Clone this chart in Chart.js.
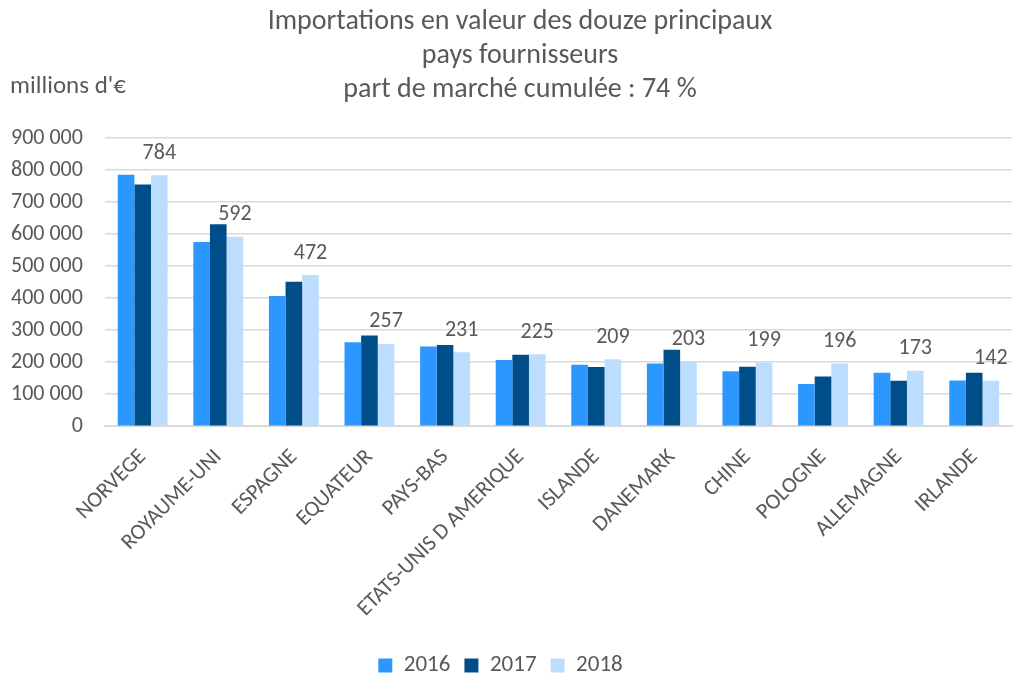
<!DOCTYPE html>
<html>
<head>
<meta charset="utf-8">
<script src="https://cdn.jsdelivr.net/npm/chart.js@4/dist/chart.umd.min.js"></script>
<style>
  html, body { margin: 0; padding: 0; background: #fff; }
  #wrap { width: 1014px; height: 675px; }
</style>
</head>
<body>
<div id="wrap"><canvas id="bar-chart"></canvas></div>
<script>
const countries = ['NORVEGE', 'ROYAUME-UNI', 'ESPAGNE', 'EQUATEUR', 'PAYS-BAS', 'ETATS-UNIS D AMERIQUE',
  'ISLANDE', 'DANEMARK', 'CHINE', 'POLOGNE', 'ALLEMAGNE', 'IRLANDE'];
const years = ['2016', '2017', '2018'];
const values2016 = [785000, 575000, 407000, 262000, 249000, 207000, 192000, 196000, 172000, 132000, 167000, 143000];
const values2017 = [755000, 631000, 451000, 283000, 254000, 223000, 185000, 239000, 186000, 155000, 142000, 167000];
const values2018 = [784000, 592000, 472000, 257000, 231000, 225000, 209000, 203000, 199000, 196000, 173000, 142000];
const titleLines = ['Importations en valeur des douze principaux', 'pays fournisseurs', 'part de marché cumulée : 74 %'];
const unitLabel = "millions d'€";

const FONT = 'Carlito, Lato, "Open Sans", sans-serif';
const GREY = '#595959';

// thousands separator with a space, like "900 000"
function fmt(v) {
  return String(v).replace(/\B(?=(\d{3})+(?!\d))/g, ' ');
}

// value labels over the 2018 bars, shown in thousands
const labels2018 = {
  id: 'labels2018',
  afterDatasetsDraw(chart) {
    const ctx = chart.ctx;
    const meta = chart.getDatasetMeta(2);
    ctx.save();
    ctx.font = '22px ' + FONT;
    ctx.fillStyle = GREY;
    ctx.textAlign = 'center';
    ctx.textBaseline = 'bottom';
    meta.data.forEach((bar, i) => {
      ctx.fillText(Math.round(values2018[i] / 1000), bar.x, bar.y - 11);
    });
    ctx.restore();
  }
};

// title block and unit note, drawn by hand to sit where the original has them
const headerText = {
  id: 'headerText',
  afterDraw(chart) {
    const ctx = chart.ctx;
    ctx.save();
    ctx.fillStyle = GREY;
    ctx.textBaseline = 'middle';
    ctx.textAlign = 'center';
    ctx.font = '28px ' + FONT;
    titleLines.forEach((line, i) => {
      ctx.fillText(line, 520, 22 + i * 34);
    });
    ctx.textAlign = 'left';
    ctx.font = '25px ' + FONT;
    ctx.fillText(unitLabel, 10, 87);
    ctx.restore();
  }
};

const data = {
  labels: countries,
  datasets: [
    { label: years[0], data: values2016, backgroundColor: '#2B97FF' },
    { label: years[1], data: values2017, backgroundColor: '#004E89' },
    { label: years[2], data: values2018, backgroundColor: '#BDDDFF' },
  ],
};

const config = {
  type: 'bar',
  data: data,
  options: {
    responsive: true,
    maintainAspectRatio: false,
    animation: false,
    datasets: {
      bar: { categoryPercentage: 0.66, barPercentage: 1.0 },
    },
    layout: {
      autoPadding: false,
      padding: { left: -11, right: 2, top: 138, bottom: -12 },
    },
    plugins: {
      title: { display: false },
      legend: {
        position: 'bottom',
        // empty legend title only used as a spacer above the items
        title: { display: true, text: '', font: { size: 1, lineHeight: 1 }, padding: { top: 0, bottom: 7 } },
        labels: {
          boxWidth: 14,
          boxHeight: 14,
          color: GREY,
          font: { family: FONT, size: 23, lineHeight: 1 },
          padding: 14,
        },
      },
      tooltip: { enabled: false },
    },
    scales: {
      x: {
        grid: { display: false },
        border: { color: '#d9d9d9', width: 2 },
        ticks: {
          color: GREY,
          font: { family: FONT, size: 22 },
          minRotation: 45,
          maxRotation: 45,
          padding: 10,
        },
      },
      y: {
        min: 0,
        max: 900000,
        grid: { color: '#d9d9d9', lineWidth: 1.5, drawTicks: false },
        border: { display: false },
        ticks: {
          stepSize: 100000,
          color: GREY,
          font: { family: FONT, size: 22 },
          padding: 22,
          callback: (v) => fmt(v),
        },
      },
    },
  },
  plugins: [labels2018, headerText],
};

const barChart = new Chart(document.getElementById('bar-chart'), config);
</script>
</body>
</html>
